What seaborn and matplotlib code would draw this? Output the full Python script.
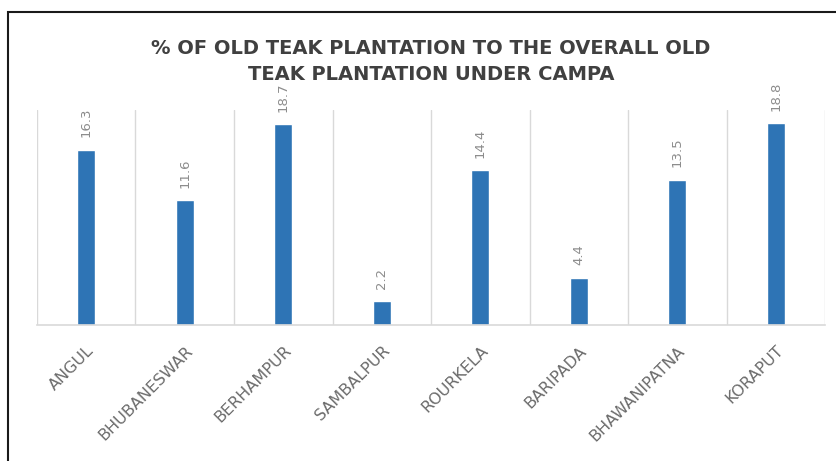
import numpy as np
import pandas as pd
import matplotlib.pyplot as plt
import seaborn as sns
from matplotlib.patches import Rectangle

# Datos
divisions = ['ANGUL', 'BHUBANESWAR', 'BERHAMPUR', 'SAMBALPUR',
             'ROURKELA', 'BARIPADA', 'BHAWANIPATNA', 'KORAPUT']
percent = [16.3, 11.6, 18.7, 2.2, 14.4, 4.4, 13.5, 18.8]

df = pd.DataFrame({'Division': divisions, 'Percent': percent})

sns.set_style('white')
plt.rcParams['font.family'] = ['DejaVu Sans']

fig = plt.figure(figsize=(8.37, 4.61), dpi=100)
ax = fig.add_axes([0.0442, 0.295, 0.9415, 0.466])

sns.barplot(data=df, x='Division', y='Percent', color='#2E74B5',
            width=0.18, saturation=1, ax=ax)

ax.set_ylim(0, 20)
ax.set_xlim(-0.5, len(divisions) - 0.5)
ax.set_yticks([])
ax.set_xlabel('')
ax.set_ylabel('')

# Lineas verticales entre categorias
ax.set_xticks(np.arange(-0.5, len(divisions), 1), minor=True)
ax.grid(True, which='minor', axis='x', color='#d9d9d9', linewidth=1)
ax.tick_params(axis='x', which='both', length=0)

for side in ['top', 'left', 'right']:
    ax.spines[side].set_visible(False)
ax.spines['bottom'].set_color('#d9d9d9')
ax.spines['bottom'].set_linewidth(1.2)

ax.set_xticks(range(len(divisions)))
ax.set_xticklabels(divisions, rotation=45, ha='right', rotation_mode='anchor',
                   fontsize=11.5, color='#6b6b6b')
ax.tick_params(axis='x', which='major', pad=13)

# Etiquetas de valor
for i, v in enumerate(percent):
    ax.annotate(f'{v}', (i, v), xytext=(0, 9), textcoords='offset points',
                rotation=90, ha='center', va='bottom',
                fontsize=9.5, color='#8c8c8c')

fig.text(0.515, 0.867, '% OF OLD TEAK PLANTATION TO THE OVERALL OLD\nTEAK PLANTATION UNDER CAMPA',
         ha='center', va='center', fontsize=14, fontweight='bold',
         color='#404040', linespacing=1.5)

# Marco
fig.patches.append(Rectangle((8 / 837, -0.05), 1.1, 1.05 - 12 / 461,
                             transform=fig.transFigure, fill=False,
                             edgecolor='#1a1a1a', linewidth=1.5))

fig.savefig('out.png', dpi=100)
